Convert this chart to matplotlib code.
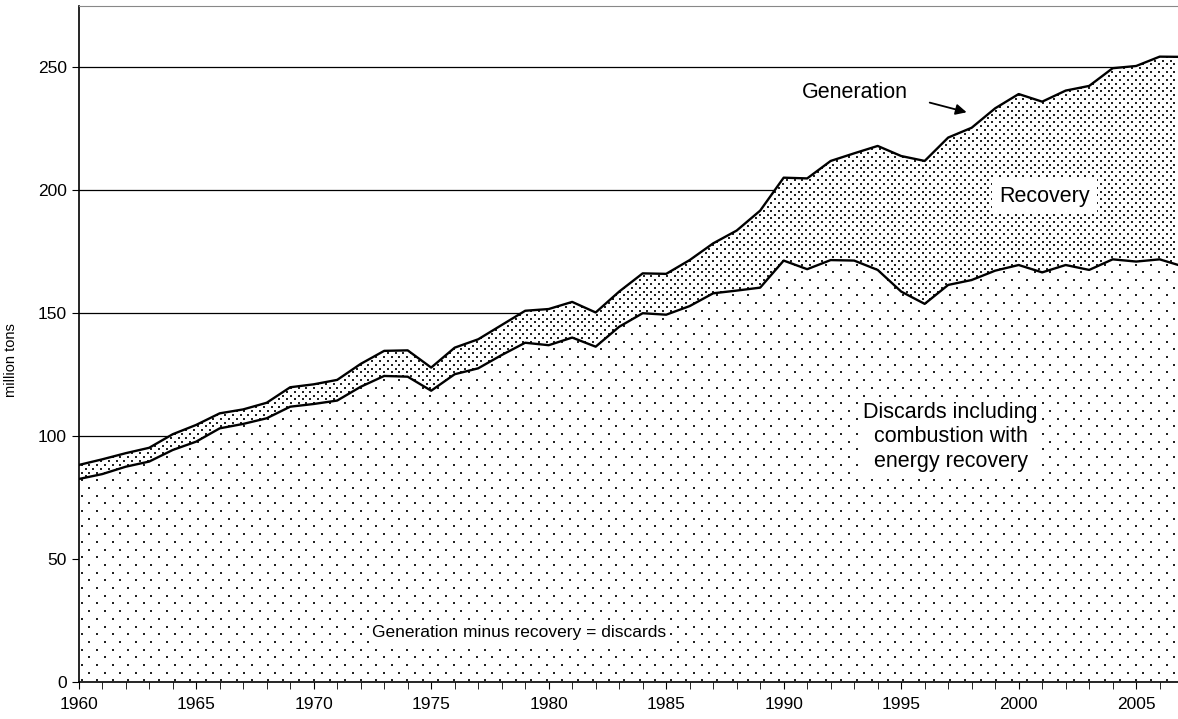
import numpy as np
import matplotlib
matplotlib.use('Agg')
import matplotlib.pyplot as plt

plt.rcParams['font.family'] = ['Liberation Sans', 'DejaVu Sans']

years = np.arange(1960, 2008)
generation = [88.2, 90.5, 93.0, 95.2, 100.7, 104.5, 109.2, 110.8, 113.5, 119.8,
              121.0, 122.8, 129.3, 134.6, 134.8, 127.8, 135.9, 139.3, 145.1, 150.9,
              151.6, 154.5, 150.2, 158.7, 166.1, 165.9, 171.5, 178.3, 183.5, 191.6,
              205.0, 204.7, 211.8, 214.9, 217.9, 213.8, 211.8, 221.3, 225.3, 233.2,
              239.0, 235.9, 240.4, 242.3, 249.5, 250.4, 254.2, 254.1]
discards = [82.5, 84.5, 87.5, 89.6, 94.3, 97.7, 103.1, 104.9, 107.2, 111.9,
            113.0, 114.4, 120.0, 124.4, 124.1, 118.4, 125.1, 127.5, 132.9, 137.9,
            136.9, 140.0, 136.3, 144.4, 149.9, 149.3, 152.8, 158.0, 159.1, 160.3,
            171.3, 167.8, 171.5, 171.3, 167.5, 158.7, 153.7, 161.4, 163.4, 167.2,
            169.5, 166.5, 169.5, 167.5, 171.8, 170.9, 171.8, 168.9]

fig = plt.figure(figsize=(11.78, 7.19), dpi=100)
ax = fig.add_axes([0.0668, 0.0515, 0.9332, 0.9402])

ax.set_xlim(1960, 2006.78)
ax.set_ylim(0, 274.8)

# white fills, textured with dots below
disc_fill = ax.fill_between(years, 0, discards, facecolor='white', edgecolor='none', zorder=1)
rec_fill = ax.fill_between(years, discards, generation, facecolor='white', edgecolor='none', zorder=1)


def dot_texture(fill, dx, dy):
    # lattice of dots in pixel units of the axes, offset on odd rows
    W = 0.9332 * 1178
    H = 0.9402 * 719
    pts = []
    for i, y in enumerate(np.arange(1.5, H, dy)):
        off = dx / 2 if i % 2 else 0
        for x in np.arange(3 + off, W, dx):
            pts.append((x / W, y / H))
    pts = np.array(pts)
    sc = ax.scatter(pts[:, 0], pts[:, 1], s=2.6, marker='s', color='#222222',
                    linewidths=0, transform=ax.transAxes, zorder=2)
    sc.set_clip_path(fill.get_paths()[0], ax.transData)


dot_texture(disc_fill, 15.5, 7.7)
dot_texture(rec_fill, 7.75, 3.85)

ax.plot(years, generation, color='black', lw=1.7, zorder=3)
ax.plot(years, discards, color='black', lw=1.7, zorder=3)

ax.set_yticks([0, 50, 100, 150, 200, 250])
ax.set_xticks(np.arange(1960, 2006, 5))
ax.set_xticks(np.arange(1960, 2007), minor=True)
ax.yaxis.grid(True, color='black', lw=0.9)
ax.set_axisbelow(True)
ax.tick_params(axis='both', labelsize=12.5, color='black', direction='out', length=5)
ax.tick_params(axis='x', which='minor', length=5)
ax.tick_params(axis='x', pad=6)
ax.set_ylabel('million tons', fontsize=10.5)
ax.yaxis.set_label_coords(-0.055, 0.476)

ax.spines['right'].set_visible(False)
ax.spines['top'].set_color('#888888')
ax.spines['left'].set_linewidth(1.2)
ax.spines['bottom'].set_linewidth(1.2)

ax.text(1993.05, 239.8, 'Generation', fontsize=15.5, ha='center', va='center')
ax.annotate('', xy=(1997.9, 231.3), xytext=(1996.1, 235.8),
            arrowprops=dict(arrowstyle='-|>', color='black', lw=1.3, mutation_scale=16))
ax.text(2001.1, 197.2, 'Recovery', fontsize=15.5, ha='center', va='center', zorder=4,
        bbox=dict(facecolor='white', edgecolor='none', pad=5))
ax.text(1997.1, 99.6, 'Discards including\ncombustion with\nenergy recovery', fontsize=15.5,
        ha='center', va='center', linespacing=1.2, zorder=4,
        bbox=dict(facecolor='white', edgecolor='none', pad=3))
ax.text(1972.5, 20, 'Generation minus recovery = discards', fontsize=12.5, ha='left',
        va='center', zorder=4, bbox=dict(facecolor='white', edgecolor='none', pad=2))

plt.savefig('out.png', dpi=100)
